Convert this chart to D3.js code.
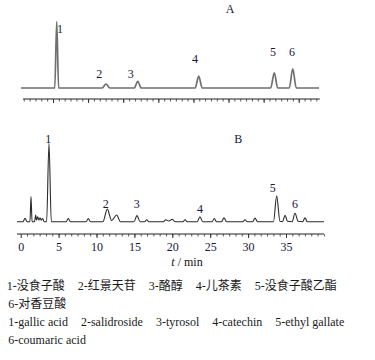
<!DOCTYPE html>
<html>
<head>
<meta charset="utf-8">
<script src="https://cdn.jsdelivr.net/npm/d3@7"></script>
<style>
  body { margin: 0; background: #fff; }
</style>
</head>
<body>
<div id="chart"></div>
<script>
// Chromatogram A (standards) : [time, signal]
const traceA = [
    [0.45, 0], [5.25, 0], [5.53, 100], [5.8, 0],
    [12.0, 0], [12.55, 6], [13.1, 0],
    [16.57, 0], [17.07, 10], [17.57, 0],
    [25.25, 0], [25.75, 18], [26.25, 0],
    [36.0, 0], [36.52, 23], [37.0, 0],
    [38.65, 0], [39.15, 28.7], [39.65, 0],
    [42.9, 0]
];

// Chromatogram B (sample) : [time, signal]
const traceB = [
    [-0.49, 0], [0.3, 0], [0.57, 4.3], [0.85, 0],
    [1.22, 0], [1.36, 32], [1.5, 0],
    [1.82, 0], [1.98, 8.5], [2.1, 2], [2.24, 6.4], [2.4, 2], [2.55, 5], [2.72, 2], [2.9, 4], [3.1, 0],
    [3.42, 0], [3.73, 100], [4.04, 0],
    [6.0, 0], [6.28, 4], [6.56, 0],
    [8.64, 0], [8.92, 4], [9.2, 0],
    [10.85, 0], [11.42, 16], [12.0, 1.5], [12.66, 8.5], [13.15, 0],
    [14.95, 0], [15.34, 7.7], [15.75, 0],
    [16.35, 0], [16.62, 2.5], [16.9, 0],
    [18.85, 0], [19.13, 2.5], [19.55, 0.8], [20.0, 3.2], [20.35, 0],
    [21.4, 0], [21.68, 2.5], [21.96, 0],
    [23.3, 0], [23.65, 6.4], [24.0, 0],
    [25.25, 0], [25.54, 4], [25.85, 0],
    [26.5, 0], [26.82, 5], [27.15, 0],
    [29.3, 0], [29.59, 2.5], [29.9, 0],
    [30.6, 0], [30.91, 4.5], [31.25, 0],
    [33.35, 0], [33.77, 33], [34.2, 0.5], [34.55, 0], [34.87, 8.3], [35.2, 0.5],
    [35.8, 0], [36.19, 10.7], [36.6, 0.5], [37.2, 0], [37.51, 5], [37.8, 0],
    [40.0, 0]
];

// labelled peaks
const peakLabels = ["1", "2", "3", "4", "5", "6"];
const peakTimeA = [5.53, 12.55, 17.07, 25.75, 36.52, 39.15];
const peakHeightA = [100, 6, 10, 18, 23, 28.7];
const peakTimeB = [3.73, 11.42, 15.34, 23.65, 33.77, 36.19];
const peakHeightB = [100, 16, 7.7, 6.4, 33, 10.7];

const tickLabelsB = [0, 5, 10, 15, 20, 25, 30, 35];
const axisTitle = "min";

const legendZh = [
    ["1-没食子酸", "2-红景天苷", "3-酪醇", "4-儿茶素", "5-没食子酸乙酯"],
    ["6-对香豆酸"]
];
const legendEn = [
    ["1-gallic acid", "2-salidroside", "3-tyrosol", "4-catechin", "5-ethyl gallate"],
    ["6-coumaric acid"]
];

const W = 375, H = 360;
const numColor = "#15163a";
const serif = "'Liberation Serif', 'Times New Roman', 'DejaVu Serif', 'Noto Sans CJK SC', serif";

const svg = d3.select("#chart").append("svg")
    .attr("width", W)
    .attr("height", H)
    .attr("font-family", serif);

// escalas
const xA = d3.scaleLinear().domain([0, 43]).range([17.9, 319.8]);
const yA = d3.scaleLinear().domain([0, 100]).range([88, 21.7]);
const xB = d3.scaleLinear().domain([0, 40]).range([20.7, 323.9]);
const yB = d3.scaleLinear().domain([0, 100]).range([221.7, 143.3]);

const line = (x, y) => d3.line()
    .x(d => x(d[0]))
    .y(d => y(d[1]))
    .curve(d3.curveMonotoneX);

svg.append("path")
    .datum(traceA)
    .attr("d", line(xA, yA))
    .attr("fill", "none")
    .attr("stroke", "#6f6f6f")
    .attr("stroke-width", 1.7);

svg.append("path")
    .datum(traceB)
    .attr("d", line(xB, yB))
    .attr("fill", "none")
    .attr("stroke", "#2a2a2a")
    .attr("stroke-width", 1.1);

// ejes
function drawAxis(x, yPos, from, to, labels) {
    const g = svg.append("g").attr("transform", `translate(0, ${yPos})`);
    const minor = d3.range(1, Math.floor(to * 6 / 5) + 1).map(i => i * 5 / 6);

    g.append("g")
        .call(d3.axisBottom(x).tickValues(minor).tickSize(2.5).tickFormat(""))
        .call(a => a.select(".domain").remove())
        .call(a => a.selectAll("line").attr("stroke", "#333").attr("stroke-width", 0.8));

    const major = d3.range(5, to + 0.01, 5);
    const ax = g.append("g")
        .call(d3.axisBottom(x)
            .tickValues(labels ? labels : major)
            .tickSize(4)
            .tickPadding(4)
            .tickFormat(labels ? d3.format("d") : ""))
        .call(a => a.select(".domain").remove());
    ax.attr("font-family", serif);
    ax.selectAll("line").attr("stroke", "#333").attr("stroke-width", 1);
    ax.selectAll("text")
        .attr("font-size", 12)
        .attr("fill", numColor);

    g.append("line")
        .attr("x1", x(from)).attr("x2", x(to))
        .attr("stroke", "#222")
        .attr("stroke-width", 1.1);
}

drawAxis(xA, 99, 0.72, 43, null);
drawAxis(xB, 234, -0.49, 40, tickLabelsB);

// título del eje
const tt = svg.append("text")
    .attr("x", 187)
    .attr("y", 266)
    .attr("text-anchor", "middle")
    .attr("font-size", 12)
    .attr("fill", "#111");
tt.append("tspan").attr("font-style", "italic").text("t");
tt.append("tspan").text(" / " + axisTitle);

// etiquetas A / B
svg.append("text").attr("x", 230).attr("y", 12.7)
    .attr("text-anchor", "middle").attr("font-size", 12).attr("fill", numColor).text("A");
svg.append("text").attr("x", 238.3).attr("y", 143)
    .attr("text-anchor", "middle").attr("font-size", 12).attr("fill", numColor).text("B");

// etiquetas de picos (desplazamientos respecto al ápice)
const offA = [[3.3, 11.6], [-6.7, -6], [-7, -3.3], [-3.7, -13], [-1.3, -16.7], [-0.7, -13]];
const offB = [[-0.7, 0], [-1.6, -1.3], [-0.3, -7.7], [0, -4], [-4, -4], [0, -5.3]];

function peakText(x, y, times, heights, offs) {
    svg.append("g").selectAll("text")
        .data(peakLabels)
        .enter()
        .append("text")
        .attr("x", (d, i) => x(times[i]) + offs[i][0])
        .attr("y", (d, i) => y(heights[i]) + offs[i][1])
        .attr("text-anchor", "middle")
        .attr("font-size", 12)
        .attr("fill", numColor)
        .text(d => d);
}
peakText(xA, yA, peakTimeA, peakHeightA, offA);
peakText(xB, yB, peakTimeB, peakHeightB, offB);

// leyenda
function legendLine(items, x0, y) {
    let x = x0;
    items.forEach(s => {
        const t = svg.append("text")
            .attr("x", x)
            .attr("y", y)
            .attr("font-size", 12)
            .attr("fill", "#1a1a1a")
            .text(s);
        x += t.node().getComputedTextLength() + 13;
    });
}
legendLine(legendZh[0], 6.7, 290);
legendLine(legendZh[1], 8.3, 307.5);
legendLine(legendEn[0], 8.3, 326);
legendLine(legendEn[1], 8.3, 344.3);
</script>
</body>
</html>
